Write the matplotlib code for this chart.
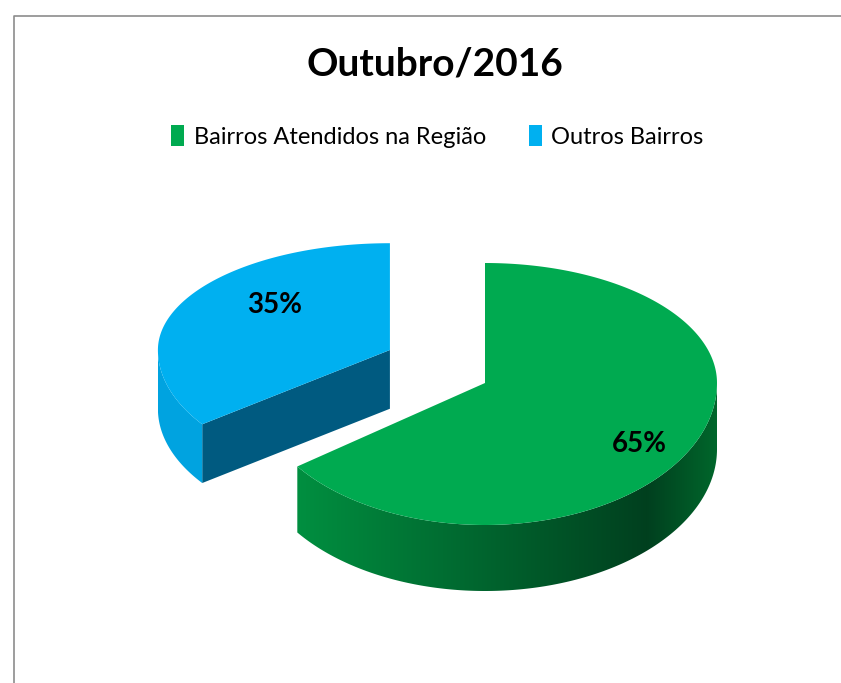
import numpy as np
import matplotlib.pyplot as plt
from matplotlib.patches import Polygon, Patch

labels = ["Bairros Atendidos na Região", "Outros Bairros"]
values = [65, 35]
pct_labels = ["65%", "35%"]
top_colors = ["#00AA50", "#00B0F0"]
cut_colors = ["#006b30", "#005a80"]
explode = [0.0, 0.46]
depth = [1.0, 0.89]   # far slice looks a bit smaller (perspective)

FONT = ["Lato", "DejaVu Sans"]

fig = plt.figure(figsize=(8.41, 6.83), dpi=100)
ax = fig.add_axes([0, 0, 1, 1])
ax.set_xlim(0, 841)
ax.set_ylim(683, 0)
ax.axis("off")

# frame of the chart area
ax.plot([14, 14, 845], [690, 16, 16], color="#8c8c8c", lw=1.2)

cx, cy = 485, 383
a = 232
b_back, b_front = 120, 142
h = 66


def lerp(c1, c2, f):
    f = min(max(f, 0.0), 1.0)
    return tuple(c1[i] + (c2[i] - c1[i]) * f for i in range(3))


# Excel style: first slice starts at 12 o'clock, goes clockwise
start = np.pi / 2
slices = []
for v in values:
    sweep = 2 * np.pi * v / sum(values)
    slices.append((start - sweep, start))
    start -= sweep

label_shift = [-0.1, -0.23]
label_r = [0.79, 0.65]

for i in [1, 0]:
    t1, t2 = slices[i]
    mid = (t1 + t2) / 2
    s = depth[i]
    bb_, bf_, hh = b_back * s, b_front * s, h * s

    def pt(t, ox, oy):
        bb = bb_ if np.sin(t) >= 0 else bf_
        return ox + a * np.cos(t), oy - bb * np.sin(t)

    ox = cx + explode[i] * a * np.cos(mid)
    oy = cy - explode[i] * 158 * np.sin(mid)

    # radial cut faces that look toward the viewer
    for t, n in [(t1, t1 - np.pi / 2), (t2, t2 + np.pi / 2)]:
        if np.sin(n) < -0.05:
            p = pt(t, ox, oy)
            ax.add_patch(Polygon([(ox, oy), p, (p[0], p[1] + hh), (ox, oy + hh)],
                                 closed=True, facecolor=cut_colors[i], edgecolor="none"))

    # outer wall, front part only
    ts = np.linspace(t1, t2, 400)
    front = ts[np.sin(ts) <= 0]
    if len(front) > 1:
        upper = [pt(t, ox, oy) for t in front]
        lower = [(x, y + hh) for x, y in upper[::-1]]
        wall = Polygon(upper + lower, closed=True, facecolor="none", edgecolor="none")
        ax.add_patch(wall)
        xs = np.linspace(ox - a, ox + a, 300)
        if i == 0:
            light, dark, edge = (0.0, 0.56, 0.25), (0.0, 0.25, 0.12), (0.0, 0.40, 0.17)
            grad = []
            for x in xs:
                u = (x - ox) / a
                grad.append(lerp(light, dark, (u + 0.81) / 1.51) if u < 0.70
                            else lerp(dark, edge, (u - 0.70) / 0.30))
        else:
            grad = [(0.0, 0.64, 0.88)] * len(xs)
        img = ax.imshow(np.array([grad]), extent=(ox - a, ox + a, oy + bf_ + hh + 5, oy - 5),
                        aspect="auto", interpolation="bilinear", zorder=1)
        img.set_clip_path(wall)

    # top face
    top = [(ox, oy)] + [pt(t, ox, oy) for t in ts]
    ax.add_patch(Polygon(top, closed=True, facecolor=top_colors[i], edgecolor="none", zorder=1.5))

    lt = mid + label_shift[i]
    lx, ly = pt(lt, ox, oy)
    r = label_r[i]
    ax.text(ox + r * (lx - ox), oy + r * (ly - oy), pct_labels[i], ha="center", va="center",
            fontsize=20, fontweight="bold", family=FONT, color="black", zorder=3)

ax.set_xlim(0, 841)
ax.set_ylim(683, 0)

handles = [Patch(facecolor=top_colors[i], edgecolor="none", label=labels[i])
           for i in range(len(values))]

fig.text(0.517, 0.906, "Outubro/2016", ha="center", va="center", fontsize=28,
         fontweight="bold", family=FONT)
fig.legend(handles=handles, loc="center", bbox_to_anchor=(0.52, 0.80), ncol=2, frameon=False,
           prop={"family": FONT, "size": 17}, handlelength=0.55, handleheight=1.0,
           handletextpad=0.4, columnspacing=1.8)

fig.savefig("out.png", dpi=100)
